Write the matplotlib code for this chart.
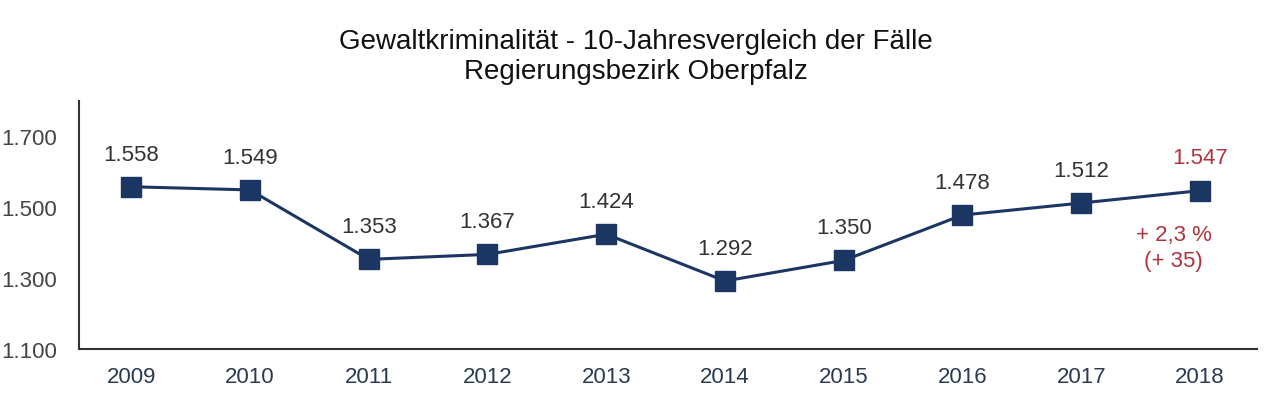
import matplotlib.pyplot as plt

plt.rcParams['font.family'] = ['Liberation Sans', 'DejaVu Sans']

years = ["2009", "2010", "2011", "2012", "2013", "2014", "2015", "2016", "2017", "2018"]
cases = [1558, 1549, 1353, 1367, 1424, 1292, 1350, 1478, 1512, 1547]
labels = ["1.558", "1.549", "1.353", "1.367", "1.424", "1.292", "1.350", "1.478", "1.512", "1.547"]
yticks = [1100, 1300, 1500, 1700]
ytick_labels = ["1.100", "1.300", "1.500", "1.700"]
change_text = "+ 2,3 %\n(+ 35)"

navy = "#1c3664"
red = "#b0343f"

fig = plt.figure(figsize=(12.8, 4.14), dpi=100)
ax = fig.add_axes([0.0617, 0.1546, 0.9203, 0.599])

x = list(range(len(years)))
ax.plot(x, cases, color=navy, lw=2.2, marker="s", markersize=14, markerfacecolor=navy, markeredgecolor=navy)

for i, (v, lab) in enumerate(zip(cases, labels)):
    c = red if i == len(cases) - 1 else "#333333"
    ax.annotate(lab, (i, v), xytext=(0, 16), textcoords="offset points",
                ha="center", va="bottom", fontsize=16, color=c)

ax.annotate(change_text, (x[-1], cases[-1]), xytext=(-19, -24), textcoords="offset points",
            ha="center", va="top", fontsize=16, color=red, linespacing=1.3)

ax.set_xlim(-0.44, 9.48)
ax.set_ylim(1100, 1800)
ax.set_xticks(x)
ax.set_xticklabels(years, fontsize=16, color="#2a3a50")
ax.set_yticks(yticks)
ax.set_yticklabels(ytick_labels, fontsize=16, color="#444444")
ax.tick_params(length=0)
ax.tick_params(axis="x", pad=12)
ax.tick_params(axis="y", pad=16)
ax.spines["top"].set_visible(False)
ax.spines["right"].set_visible(False)
for s in ("left", "bottom"):
    ax.spines[s].set_color("#333333")
    ax.spines[s].set_linewidth(1.5)

fig.text(0.497, 0.898, "Gewaltkriminalität - 10-Jahresvergleich der Fälle", ha="center", va="center", fontsize=20, color="#111111")
fig.text(0.497, 0.826, "Regierungsbezirk Oberpfalz", ha="center", va="center", fontsize=20, color="#111111")

fig.savefig("out.png", dpi=100)
